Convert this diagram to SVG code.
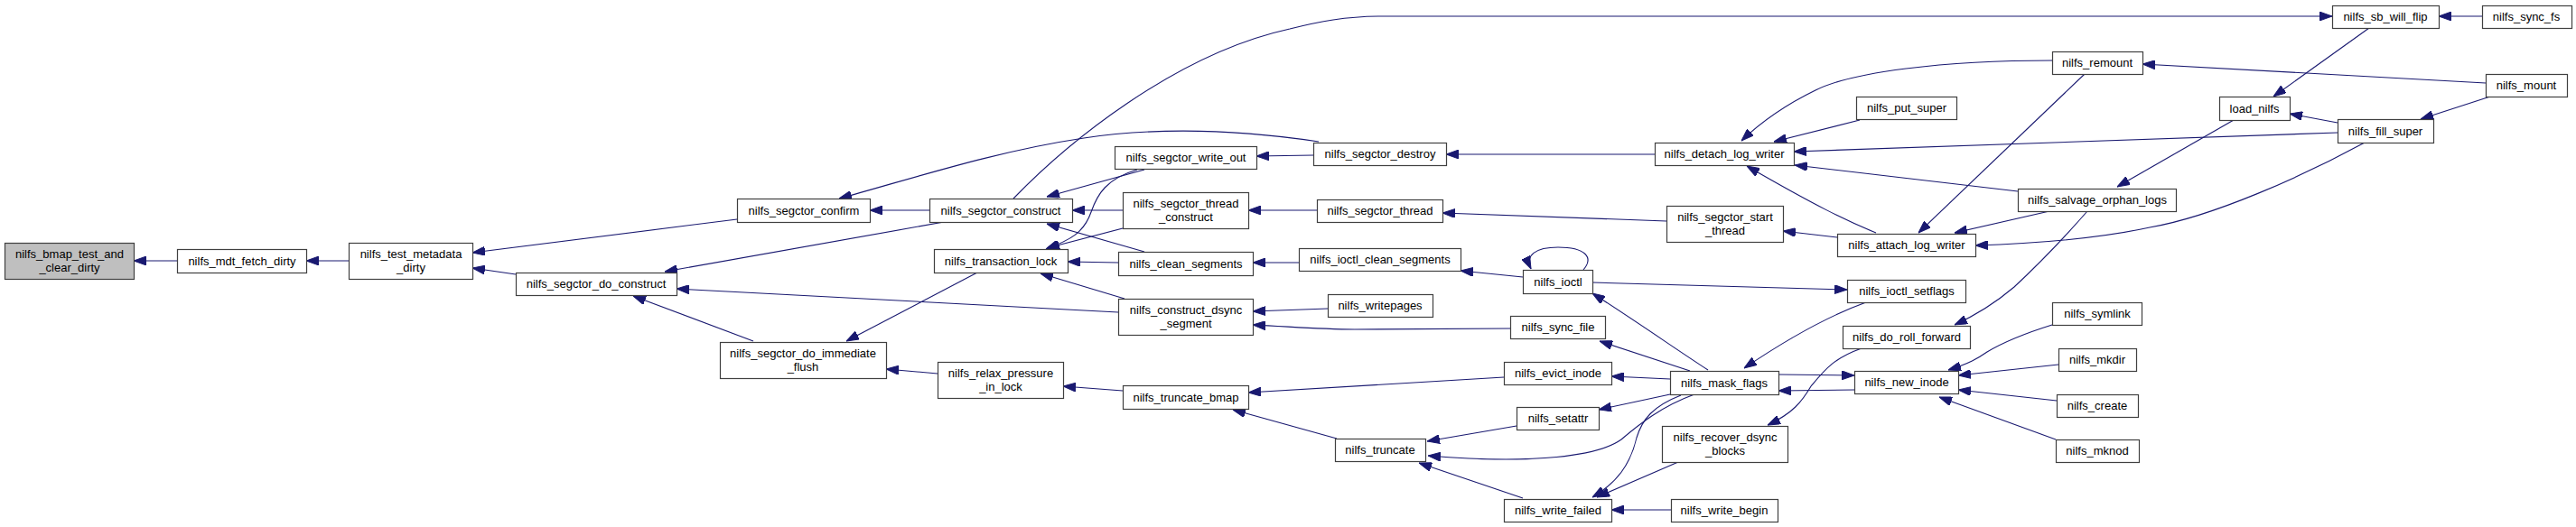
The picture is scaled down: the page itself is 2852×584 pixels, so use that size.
<svg xmlns="http://www.w3.org/2000/svg" width="2852" height="584" viewBox="0 0 2852 584">
<style>
.n rect{fill:#fff;stroke:#404040;stroke-width:1.2}
.n text{font-family:"Liberation Sans",Arial,sans-serif;font-size:13px;text-anchor:middle;fill:#000}
#edges path{fill:none;stroke:#191970;stroke-width:1.1;marker-end:url(#arr)}
</style>
<defs>
<marker id="arr" viewBox="0 0 14 10" refX="14" refY="5" markerWidth="14" markerHeight="10" markerUnits="userSpaceOnUse" orient="auto">
<path d="M0,0 L14,5 L0,10 z" fill="#191970" stroke="#191970"/>
</marker>
</defs>
<rect width="2852" height="584" fill="#fff"/>
<g id="edges">
<path d="M196,289 L148,289"/>
<path d="M386,289 L339,289"/>
<path d="M816,243 L523,280"/>
<path d="M571,304 L523,297"/>
<path d="M1029,233 L963,233"/>
<path d="M1460,157 C1400,148 1300,138 1200,153 C1100,168 1010,198 929,220"/>
<path d="M1045,246 L736,301"/>
<path d="M1238,346 L749,320"/>
<path d="M1082,302 L937,378"/>
<path d="M834,378 L701,328"/>
<path d="M1038,414 L981,409"/>
<path d="M1243,433 L1177,428"/>
<path d="M1122,220 C1180,160 1300,60 1428,32 C1460,24 1490,18 1530,18 L2582,18"/>
<path d="M1267,188 L1159,218"/>
<path d="M1259,188 C1225,198 1215,215 1208,235 C1200,258 1185,266 1158,276"/>
<path d="M1243,233 L1187,233"/>
<path d="M1243,253 L1159,275"/>
<path d="M1267,279 L1159,248"/>
<path d="M1238,291 L1182,290"/>
<path d="M1245,331 L1152,303"/>
<path d="M1454,172 L1391,173"/>
<path d="M1458,233 L1382,233"/>
<path d="M1438,291 L1387,291"/>
<path d="M1470,342 L1387,345"/>
<path d="M1672,364 L1500,365 C1460,365 1430,362 1387,360"/>
<path d="M1665,418 L1382,435"/>
<path d="M1480,486 L1365,454"/>
<path d="M1832,171 L1601,171"/>
<path d="M1845,245 L1597,236"/>
<path d="M1686,307 L1617,300"/>
<path d="M1753,299 C1765,285 1755,274 1725,274 C1700,274 1688,283 1695,298"/>
<path d="M1763,313 L2045,321"/>
<path d="M1891,410 C1860,390 1810,355 1763,325"/>
<path d="M1871,411 L1771,378"/>
<path d="M1849,420 L1784,417"/>
<path d="M1849,437 L1770,454"/>
<path d="M1679,472 L1580,489"/>
<path d="M1876,437 C1840,450 1815,470 1795,487 C1770,505 1700,515 1581,505"/>
<path d="M1861,438 C1830,450 1818,465 1812,485 C1805,515 1790,535 1763,551"/>
<path d="M1686,552 L1571,513"/>
<path d="M1858,512 L1768,551"/>
<path d="M1850,565 L1784,565"/>
<path d="M2272,67 C2150,67 2050,80 2010,100 C1975,117 1950,135 1928,156"/>
<path d="M2059,133 L1964,157"/>
<path d="M2588,147 L1986,168"/>
<path d="M2234,212 L1987,183"/>
<path d="M2077,258 C2045,245 2010,228 1934,184"/>
<path d="M2308,82 L2124,258"/>
<path d="M2034,263 L1974,256"/>
<path d="M2269,234 L2164,258"/>
<path d="M2618,158 C2550,195 2450,240 2380,252 C2320,265 2250,270 2187,272"/>
<path d="M2473,133 L2344,207"/>
<path d="M2311,234 C2290,258 2260,290 2230,318 C2210,335 2190,348 2164,360"/>
<path d="M2748,18 L2700,18"/>
<path d="M2623,31 L2517,107"/>
<path d="M2752,92 L2372,71"/>
<path d="M2588,136 L2535,126"/>
<path d="M2757,107 L2680,132"/>
<path d="M2066,335 C2030,348 1990,368 1931,408"/>
<path d="M2061,386 C2030,397 2020,410 2005,428 C1995,445 1985,458 1957,471"/>
<path d="M1969,415 L2053,416"/>
<path d="M2053,432 L1969,433"/>
<path d="M2272,360 C2240,370 2220,378 2200,390 C2190,397 2180,403 2157,410"/>
<path d="M2279,404 L2168,416"/>
<path d="M2277,444 L2168,432"/>
<path d="M2276,487 L2147,440"/>
</g>
<g id="n_bmap" class="n"><rect x="5.5" y="269.5" width="143" height="40" style="fill:#bfbfbf"/><text x="77" y="286">nilfs_bmap_test_and</text><text x="77" y="301">_clear_dirty</text></g>
<g id="n_mdt_fetch" class="n"><rect x="196.5" y="276.5" width="143" height="26"/><text x="268" y="294">nilfs_mdt_fetch_dirty</text></g>
<g id="n_test_metadata" class="n"><rect x="386.5" y="269.5" width="137" height="40"/><text x="455" y="286">nilfs_test_metadata</text><text x="455" y="301">_dirty</text></g>
<g id="n_confirm" class="n"><rect x="816.5" y="220.5" width="147" height="26"/><text x="890" y="238">nilfs_segctor_confirm</text></g>
<g id="n_do_construct" class="n"><rect x="571.5" y="302.5" width="178" height="25"/><text x="660" y="319">nilfs_segctor_do_construct</text></g>
<g id="n_immediate" class="n"><rect x="797.5" y="379.5" width="184" height="40"/><text x="889" y="396">nilfs_segctor_do_immediate</text><text x="889" y="411">_flush</text></g>
<g id="n_construct" class="n"><rect x="1029.5" y="220.5" width="158" height="26"/><text x="1108" y="238">nilfs_segctor_construct</text></g>
<g id="n_write_out" class="n"><rect x="1234.5" y="162.5" width="157" height="25"/><text x="1313" y="179">nilfs_segctor_write_out</text></g>
<g id="n_thread_construct" class="n"><rect x="1243.5" y="213.5" width="139" height="40"/><text x="1313" y="230">nilfs_segctor_thread</text><text x="1313" y="245">_construct</text></g>
<g id="n_transaction_lock" class="n"><rect x="1034.5" y="276.5" width="148" height="26"/><text x="1108" y="294">nilfs_transaction_lock</text></g>
<g id="n_clean_segments" class="n"><rect x="1238.5" y="279.5" width="149" height="26"/><text x="1313" y="297">nilfs_clean_segments</text></g>
<g id="n_dsync" class="n"><rect x="1238.5" y="331.5" width="149" height="40"/><text x="1313" y="348">nilfs_construct_dsync</text><text x="1313" y="363">_segment</text></g>
<g id="n_relax" class="n"><rect x="1038.5" y="401.5" width="139" height="40"/><text x="1108" y="418">nilfs_relax_pressure</text><text x="1108" y="433">_in_lock</text></g>
<g id="n_truncate_bmap" class="n"><rect x="1243.5" y="427.5" width="139" height="26"/><text x="1313" y="445">nilfs_truncate_bmap</text></g>
<g id="n_destroy" class="n"><rect x="1454.5" y="158.5" width="147" height="25"/><text x="1528" y="175">nilfs_segctor_destroy</text></g>
<g id="n_segctor_thread" class="n"><rect x="1458.5" y="221.5" width="139" height="25"/><text x="1528" y="238">nilfs_segctor_thread</text></g>
<g id="n_ioctl_clean" class="n"><rect x="1438.5" y="275.5" width="179" height="25"/><text x="1528" y="292">nilfs_ioctl_clean_segments</text></g>
<g id="n_detach" class="n"><rect x="1832.5" y="158.5" width="154" height="25"/><text x="1909" y="175">nilfs_detach_log_writer</text></g>
<g id="n_start_thread" class="n"><rect x="1845.5" y="228.5" width="129" height="40"/><text x="1910" y="245">nilfs_segctor_start</text><text x="1910" y="260">_thread</text></g>
<g id="n_ioctl" class="n"><rect x="1686.5" y="299.5" width="77" height="26"/><text x="1725" y="317">nilfs_ioctl</text></g>
<g id="n_writepages" class="n"><rect x="1470.5" y="326.5" width="116" height="25"/><text x="1528" y="343">nilfs_writepages</text></g>
<g id="n_sync_file" class="n"><rect x="1672.5" y="350.5" width="105" height="25"/><text x="1725" y="367">nilfs_sync_file</text></g>
<g id="n_evict_inode" class="n"><rect x="1665.5" y="401.5" width="119" height="25"/><text x="1725" y="418">nilfs_evict_inode</text></g>
<g id="n_mask_flags" class="n"><rect x="1849.5" y="411.5" width="120" height="26"/><text x="1909" y="429">nilfs_mask_flags</text></g>
<g id="n_setattr" class="n"><rect x="1679.5" y="451.5" width="91" height="25"/><text x="1725" y="468">nilfs_setattr</text></g>
<g id="n_truncate" class="n"><rect x="1478.5" y="486.5" width="100" height="25"/><text x="1528" y="503">nilfs_truncate</text></g>
<g id="n_write_failed" class="n"><rect x="1665.5" y="553.5" width="119" height="25"/><text x="1725" y="570">nilfs_write_failed</text></g>
<g id="n_recover_dsync" class="n"><rect x="1840.5" y="472.5" width="139" height="40"/><text x="1910" y="489">nilfs_recover_dsync</text><text x="1910" y="504">_blocks</text></g>
<g id="n_write_begin" class="n"><rect x="1850.5" y="553.5" width="118" height="25"/><text x="1909" y="570">nilfs_write_begin</text></g>
<g id="n_remount" class="n"><rect x="2272.5" y="57.5" width="100" height="25"/><text x="2322" y="74">nilfs_remount</text></g>
<g id="n_put_super" class="n"><rect x="2055.5" y="107.5" width="111" height="25"/><text x="2111" y="124">nilfs_put_super</text></g>
<g id="n_salvage" class="n"><rect x="2234.5" y="209.5" width="175" height="25"/><text x="2322" y="226">nilfs_salvage_orphan_logs</text></g>
<g id="n_attach" class="n"><rect x="2034.5" y="259.5" width="153" height="25"/><text x="2111" y="276">nilfs_attach_log_writer</text></g>
<g id="n_setflags" class="n"><rect x="2045.5" y="310.5" width="131" height="25"/><text x="2111" y="327">nilfs_ioctl_setflags</text></g>
<g id="n_roll_forward" class="n"><rect x="2040.5" y="361.5" width="141" height="25"/><text x="2111" y="378">nilfs_do_roll_forward</text></g>
<g id="n_new_inode" class="n"><rect x="2053.5" y="411.5" width="115" height="25"/><text x="2111" y="428">nilfs_new_inode</text></g>
<g id="n_symlink" class="n"><rect x="2272.5" y="335.5" width="99" height="25"/><text x="2322" y="352">nilfs_symlink</text></g>
<g id="n_mkdir" class="n"><rect x="2279.5" y="386.5" width="86" height="25"/><text x="2322" y="403">nilfs_mkdir</text></g>
<g id="n_create" class="n"><rect x="2277.5" y="437.5" width="90" height="25"/><text x="2322" y="454">nilfs_create</text></g>
<g id="n_mknod" class="n"><rect x="2276.5" y="487.5" width="92" height="25"/><text x="2322" y="504">nilfs_mknod</text></g>
<g id="n_sb_will_flip" class="n"><rect x="2582.5" y="6.5" width="118" height="25"/><text x="2641" y="23">nilfs_sb_will_flip</text></g>
<g id="n_sync_fs" class="n"><rect x="2748.5" y="6.5" width="99" height="25"/><text x="2797" y="23">nilfs_sync_fs</text></g>
<g id="n_mount" class="n"><rect x="2752.5" y="82.5" width="90" height="25"/><text x="2797" y="99">nilfs_mount</text></g>
<g id="n_load_nilfs" class="n"><rect x="2457.5" y="107.5" width="78" height="26"/><text x="2496" y="125">load_nilfs</text></g>
<g id="n_fill_super" class="n"><rect x="2588.5" y="132.5" width="106" height="26"/><text x="2641" y="150">nilfs_fill_super</text></g>
</svg>
